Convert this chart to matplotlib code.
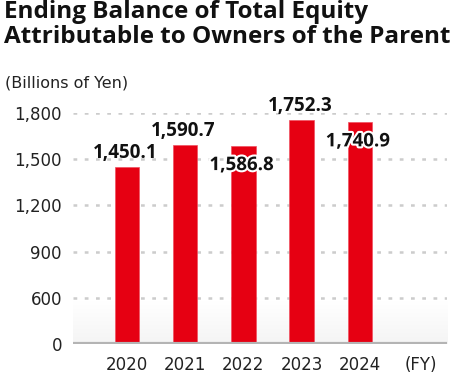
import numpy as np
import matplotlib.pyplot as plt
import matplotlib.patheffects as pe

# Chart data
years = ["2020", "2021", "2022", "2023", "2024"]
equity = [1450.1, 1590.7, 1586.8, 1752.3, 1740.9]
labels = ["1,450.1", "1,590.7", "1,586.8", "1,752.3", "1,740.9"]
label_inside = [False, False, True, False, True]
yticks = [0, 600, 900, 1200, 1500, 1800]


# broken axis: 0-600 squeezed into a single 300 step
def fwd(v):
    v = np.asarray(v, dtype=float)
    return np.where(v < 600, v / 2, v - 300)


def inv(p):
    p = np.asarray(p, dtype=float)
    return np.where(p < 300, p * 2, p + 300)


plt.rcParams['font.family'] = ['DejaVu Sans']
bold_font = ['Open Sans', 'DejaVu Sans']

fig = plt.figure(figsize=(4.5, 3.75), dpi=100)
ax = fig.add_axes([73 / 450, 31 / 375, 374 / 450, 231 / 375])
ax.set_yscale('function', functions=(fwd, inv))

x = np.arange(len(years))
red = "#e60012"

# soft gray gradient near the baseline
grad = np.linspace(0, 1, 100).reshape(-1, 1)
ax.imshow(grad, extent=(0, 1, 0, 0.19), transform=ax.transAxes, aspect='auto',
          cmap='Greys', vmin=0, vmax=11, origin='upper', zorder=0)

for v in yticks[1:]:
    ax.axhline(v, color="#cccccc", linestyle=(0, (1.5, 3)), linewidth=1.8, zorder=1)

ax.bar(x, equity, width=0.42, color=red, edgecolor="#f05060", linewidth=0.5, zorder=2)
ax.axhline(0, color="#b4b4b4", linewidth=3, zorder=3)

for i, (v, lab) in enumerate(zip(equity, labels)):
    if label_inside[i]:
        t = ax.text(x[i] - 0.03, v - 60, lab, ha='center', va='top', fontsize=13.5,
                    fontweight='bold', family=bold_font, color="#111111", zorder=4)
        t.set_path_effects([pe.withStroke(linewidth=3, foreground='white')])
    else:
        ax.text(x[i] - 0.03, v + 25, lab, ha='center', va='bottom', fontsize=13.5,
                fontweight='bold', family=bold_font, color="#111111", zorder=4)

ax.set_xlim(-0.93, 5.5)
ax.set_ylim(0, 1800)
ax.set_yticks(yticks)
ax.set_yticklabels([f"{v:,}" for v in yticks], fontsize=12, color="#222222")
ax.minorticks_off()
ax.set_xticks(list(x) + [5.05])
ax.set_xticklabels(years + ["(FY)"], fontsize=12, color="#222222")
ax.tick_params(axis='x', length=0, pad=9)
ax.tick_params(axis='y', length=0, pad=8)
for s in ax.spines.values():
    s.set_visible(False)

fig.text(0.008, 1.0, "Ending Balance of Total Equity\nAttributable to Owners of the Parent",
         ha='left', va='top', fontsize=17.5, fontweight='bold', family=bold_font,
         color="#111111", linespacing=1.05)
fig.text(0.012, 0.78, "(Billions of Yen)", ha='left', va='center', fontsize=11.5,
         color="#222222")

fig.savefig("out.png", dpi=100)
